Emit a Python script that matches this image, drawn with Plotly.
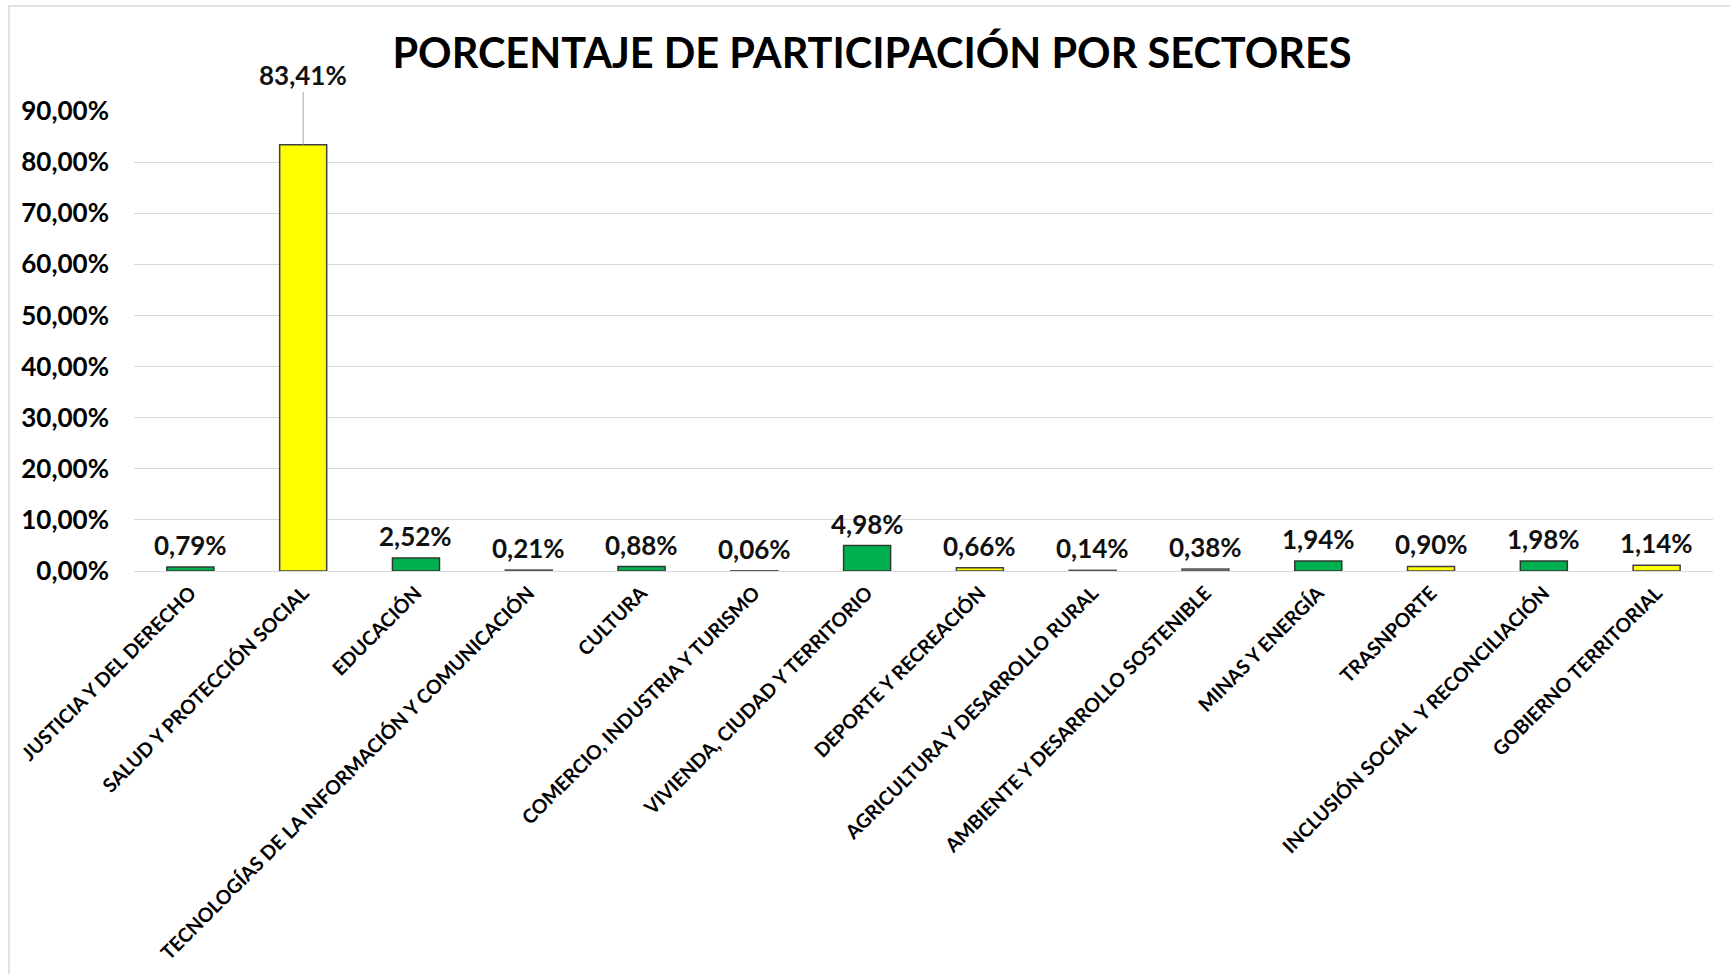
import plotly.graph_objects as go

# Participación porcentual por sector
sectores = [
    "JUSTICIA Y DEL DERECHO",
    "SALUD Y PROTECCIÓN SOCIAL",
    "EDUCACIÓN",
    "TECNOLOGÍAS DE LA INFORMACIÓN Y COMUNICACIÓN",
    "CULTURA",
    "COMERCIO, INDUSTRIA Y TURISMO",
    "VIVIENDA, CIUDAD Y TERRITORIO",
    "DEPORTE Y RECREACIÓN",
    "AGRICULTURA Y DESARROLLO RURAL",
    "AMBIENTE Y DESARROLLO SOSTENIBLE",
    "MINAS Y ENERGÍA",
    "TRASNPORTE",
    "INCLUSIÓN SOCIAL  Y RECONCILIACIÓN",
    "GOBIERNO TERRITORIAL",
]
porcentajes = [0.79, 83.41, 2.52, 0.21, 0.88, 0.06, 4.98, 0.66, 0.14, 0.38, 1.94, 0.90, 1.98, 1.14]
grupos = ["verde", "amarillo", "verde", "gris", "verde", "gris", "verde",
          "amarillo", "gris", "gris", "verde", "amarillo", "verde", "amarillo"]
y_ticks = [0, 10, 20, 30, 40, 50, 60, 70, 80, 90]

COLORES = {"verde": "#00B050", "amarillo": "#FFFF00", "gris": "#808080"}
BORDES = {"verde": "#2F3A2F", "amarillo": "#404040", "gris": "#595959"}

FONT = "Lato, 'Open Sans', sans-serif"
W, H = 1730, 974
ML, MR, MT, MB = 134, 17, 111, 403


def fmt(v):
    return f"{v:.2f}".replace(".", ",") + "%"


fig = go.Figure()
fig.add_trace(go.Bar(
    x=sectores,
    y=porcentajes,
    marker=dict(
        color=[COLORES[g] for g in grupos],
        line=dict(color=[BORDES[g] for g in grupos], width=1.5),
    ),
    hoverinfo="x+y",
))

# Etiquetas de valor sobre cada barra
etiqueta_font = dict(family=FONT, size=26, color="#111111", weight="bold")
anotaciones = []
for s, v in zip(sectores, porcentajes):
    if v > 50:
        anotaciones.append(dict(
            x=s, y=v, text=f"<b>{fmt(v)}</b>", showarrow=True,
            ax=0, ay=-70, arrowhead=0, arrowwidth=1, arrowcolor="#A6A6A6",
            standoff=0, font=etiqueta_font,
        ))
    else:
        anotaciones.append(dict(
            x=s, y=v, text=f"<b>{fmt(v)}</b>", showarrow=False,
            yanchor="middle", yshift=22,
            font=etiqueta_font,
        ))

pw = W - ML - MR
ph = H - MT - MB


def px_x(p):
    return (p - ML) / pw


def px_y(p):
    return (H - MB - p) / ph


# Marco exterior del gráfico (bordes superior e izquierdo)
formas = [
    dict(type="line", xref="paper", yref="paper",
         x0=px_x(8), x1=px_x(W), y0=px_y(6), y1=px_y(6),
         line=dict(color="#D9D9D9", width=1.5)),
    dict(type="line", xref="paper", yref="paper",
         x0=px_x(9), x1=px_x(9), y0=px_y(6), y1=px_y(H),
         line=dict(color="#D9D9D9", width=1.5)),
]

fig.update_layout(
    width=W, height=H,
    margin=dict(l=ML, r=MR, t=MT, b=MB, pad=0, autoexpand=False),
    paper_bgcolor="white", plot_bgcolor="white",
    bargap=0.583,
    showlegend=False,
    title=dict(
        text="<b>PORCENTAJE DE PARTICIPACIÓN POR SECTORES</b>",
        x=872 / W, xanchor="center", xref="container",
        y=1 - 53 / H, yanchor="middle", yref="container",
        font=dict(family=FONT, size=41.5, color="#000000", weight="bold"),
    ),
    annotations=anotaciones,
    shapes=formas,
    xaxis=dict(
        tickangle=-45,
        tickfont=dict(family=FONT, size=19.5, color="#000000", weight="bold"),
        showgrid=False, showline=False, ticks="",
        ticklabelstandoff=6,
        automargin=False,
    ),
    yaxis=dict(
        range=[0, 90],
        tickvals=y_ticks,
        ticktext=[fmt(t) for t in y_ticks],
        tickfont=dict(family=FONT, size=26, color="#000000", weight="bold"),
        showgrid=True, gridcolor="#D9D9D9", gridwidth=1,
        zeroline=True, zerolinecolor="#D9D9D9", zerolinewidth=1,
        showline=False, ticks="",
        ticklabelstandoff=24,
        automargin=False,
    ),
)

fig.write_html("out.html")
